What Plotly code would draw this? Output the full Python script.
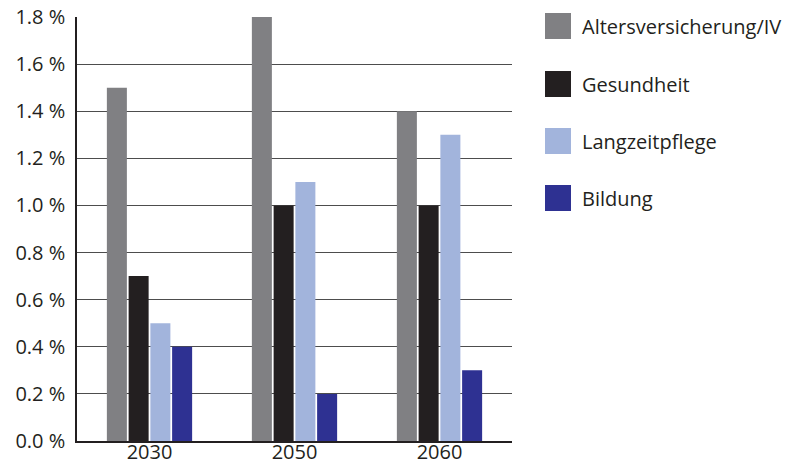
import plotly.graph_objects as go

years = ["2030", "2050", "2060"]
series_names = ["Altersversicherung/IV", "Gesundheit", "Langzeitpflege", "Bildung"]
alters = [1.5, 1.8, 1.4]
gesundheit = [0.7, 1.0, 1.0]
pflege = [0.5, 1.1, 1.3]
bildung = [0.4, 0.2, 0.3]
colors = ["#808083", "#231f20", "#a2b4dc", "#2e3192"]
y_ticks = [0.0, 0.2, 0.4, 0.6, 0.8, 1.0, 1.2, 1.4, 1.6, 1.8]
y_tick_labels = [f"{v:.1f} %" for v in y_ticks]

FONT = "Open Sans"
FS = 20
fig = go.Figure()
for name, vals, col in zip(series_names, [alters, gesundheit, pflege, bildung], colors):
    fig.add_trace(go.Bar(x=years, y=vals, name=name, marker_color=col,
                         marker_line_width=0, showlegend=False))

W, H = 799, 465
L, R, T, B = 77, 287, 17, 24
PW, PH = W - L - R, H - T - B
legend_y = [26, 84, 141, 198]
for name, col, yc in zip(series_names, colors, legend_y):
    fig.add_shape(type="rect", xref="paper", yref="paper",
                  x0=(545 - L) / PW, x1=(571 - L) / PW,
                  y0=(H - B - (yc + 13)) / PH, y1=(H - B - (yc - 13)) / PH,
                  fillcolor=col, line_width=0)
    fig.add_annotation(xref="paper", yref="paper", x=(580 - L) / PW,
                       y=(H - B - yc) / PH, text=name, showarrow=False,
                       xanchor="left", yanchor="middle",
                       font=dict(family=FONT, size=FS, color="#231f20"))

fig.update_layout(
    width=W, height=H, margin=dict(l=L, r=R, t=T, b=B, autoexpand=False),
    plot_bgcolor="white", paper_bgcolor="white",
    barmode="group", bargap=0.4, bargroupgap=0.08,
    font=dict(family=FONT, size=FS, color="#231f20"),
    xaxis=dict(showline=True, linecolor="#231f20", linewidth=1.5, ticks="",
               tickfont=dict(family=FONT, size=FS, color="#231f20"), showgrid=False,
               automargin=False, ticklabelstandoff=-8),
    yaxis=dict(range=[0, 1.8], tickmode="array", tickvals=y_ticks, ticktext=y_tick_labels,
               showline=True, linecolor="#231f20", linewidth=1.5,
               showgrid=True, gridcolor="#4d4d4d", gridwidth=1, zeroline=False,
               ticks="", tickfont=dict(family=FONT, size=FS, color="#231f20"),
               automargin=False, ticklabelstandoff=6),
)
fig.write_html("out.html")
